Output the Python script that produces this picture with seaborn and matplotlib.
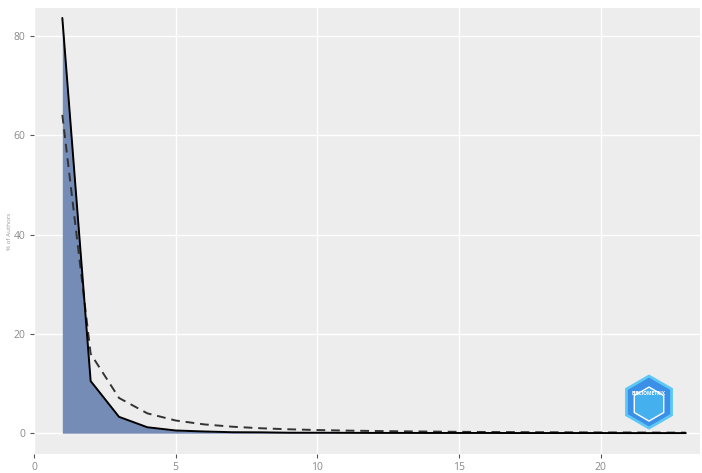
import numpy as np
import pandas as pd
import matplotlib
matplotlib.use("Agg")
import matplotlib.pyplot as plt
import seaborn as sns
from matplotlib.patches import RegularPolygon

# Data
n_articles = list(range(1, 24))
observed = [83.6, 10.5, 3.3, 1.2, 0.55, 0.35, 0.2, 0.18, 0.1, 0.1, 0.08, 0.06, 0.06, 0.05,
            0.05, 0.05, 0.04, 0.04, 0.04, 0.04, 0.03, 0.03, 0.03]
theoretical = [64.1, 16.0, 7.1, 4.0, 2.56, 1.78, 1.31, 1.0, 0.79, 0.64, 0.53, 0.45, 0.38, 0.33,
               0.28, 0.25, 0.22, 0.2, 0.18, 0.16, 0.15, 0.13, 0.12]
x_ticks = [0, 5, 10, 15, 20]
y_ticks = [0, 20, 40, 60, 80]

df = pd.DataFrame({"N.Articles": n_articles, "Observed": observed, "Theoretical": theoretical})

sns.set_theme(style="darkgrid")
plt.rcParams['font.family'] = ['Open Sans', 'DejaVu Sans']

fig = plt.figure(figsize=(7.02, 4.73), dpi=100)
ax = fig.add_axes([0.0484, 0.040, 0.9487, 0.9430])
ax.set_facecolor("#EDEDED")

ax.fill_between(df["N.Articles"], 0, df["Observed"], color="#6F87B3", alpha=0.95, linewidth=0, zorder=2)
sns.lineplot(data=df, x="N.Articles", y="Observed", ax=ax, color="black", linewidth=1.4, zorder=4)
sns.lineplot(data=df, x="N.Articles", y="Theoretical", ax=ax, color="#333333", linewidth=1.4,
             linestyle=(0, (4.5, 3)), zorder=3)

ax.set_xlim(0, 23.5)
ax.set_ylim(-4.2, 85.6)
ax.set_xticks(x_ticks)
ax.set_yticks(y_ticks)
ax.grid(True, color="white", linewidth=1.0)
for s in ax.spines.values():
    s.set_visible(False)
ax.tick_params(axis="both", which="major", labelsize=7.5, labelcolor="#8a8a8a", color="#555555",
               length=3, width=0.8, bottom=True, left=True, pad=3)
ax.set_xlabel("")
ax.set_ylabel("")

fig.text(0.013, 0.51, "% of Authors", rotation=90, fontsize=4.5, color="#9a9a9a",
         ha="center", va="center")

# logo
cx, cy = 0.9245, 0.150
hexagon = RegularPolygon((cx * 702, cy * 473), numVertices=6, radius=26, orientation=0,
                         facecolor="#3B8FE6", edgecolor="#5BC8F5", linewidth=2.0,
                         transform=None, figure=fig)
fig.patches.append(hexagon)
inner = RegularPolygon((cx * 702, cy * 473 - 2), numVertices=6, radius=17, orientation=0,
                       facecolor="#45B0EE", edgecolor="white", linewidth=1.0,
                       transform=None, figure=fig)
fig.patches.append(inner)
fig.text(cx, cy + 0.018, "BIBLIOMETRIX", fontsize=3.5, color="white", ha="center", va="center",
         fontweight="bold")

fig.savefig("out.png", dpi=100)
